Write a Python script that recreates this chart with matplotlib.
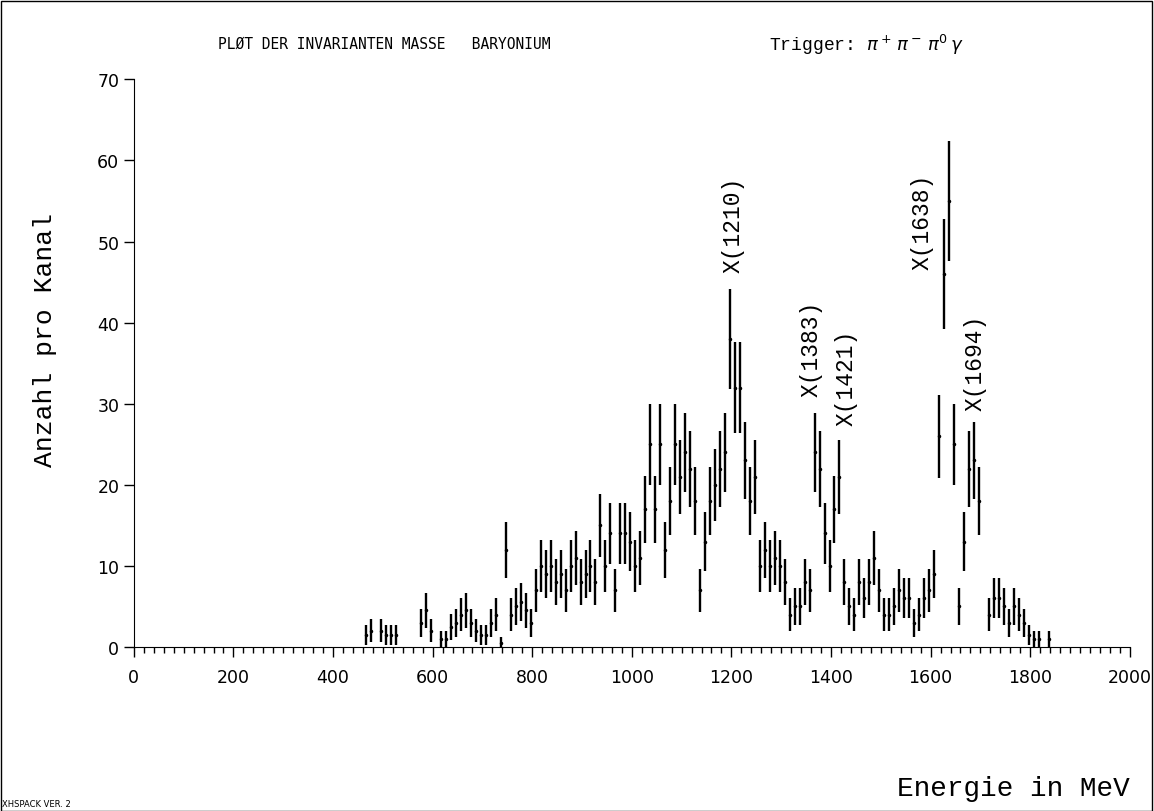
import numpy as np
import matplotlib
matplotlib.use("Agg")
import matplotlib.pyplot as plt
from matplotlib.patches import Rectangle

# channel centres (10 MeV channels) and counts per channel
energie = np.arange(467, 1847, 10)
anzahl = [
    1.5, 2, 0, 2, 1.5, 1.5, 1.5, 0, 0, 0, 0, 3, 4.5, 2, 0, 1, 1, 2.5, 3, 4,
    4.5, 3, 2, 1.5, 1.5, 3, 4, 0.5, 12, 4, 5, 5.5, 4.5, 3, 7, 10, 9, 10, 8, 9,
    7, 10, 11, 8, 9, 10, 8, 15, 10, 14, 7, 14, 14, 13, 10, 11, 17, 25, 17, 25,
    12, 18, 25, 21, 24, 22, 18, 7, 13, 18, 20, 22, 24, 38, 32, 32, 23, 18, 21, 10,
    12, 10, 11, 10, 8, 4, 5, 5, 8, 7, 24, 22, 14, 10, 17, 21, 8, 5, 4, 8,
    6, 8, 11, 7, 4, 4, 5, 7, 6, 6, 3, 4, 6, 7, 9, 26, 46, 55, 25, 5,
    13, 22, 23, 18, 0, 4, 6, 6, 5, 3, 5, 4, 3, 1.5, 1, 1, 0, 1,
]

# resonance labels: name, x position, bottom of text
peak_names = ["X(1210)", "X(1383)", "X(1421)", "X(1638)", "X(1694)"]
peak_x = [1203, 1361, 1430, 1582, 1690]
peak_y = [46.3, 31, 27.4, 46.6, 29.2]

counts = np.array(anzahl, dtype=float)
mask = counts > 0
E = energie[mask]
N = counts[mask]
err = np.sqrt(N)

mono = "Liberation Mono"

fig = plt.figure(figsize=(11.54, 8.12), dpi=100)
ax = fig.add_axes([0.116, 0.202, 0.863, 0.699])

ax.errorbar(E, N, yerr=err, fmt=".", color="black", markersize=3,
            elinewidth=1.7, capsize=0)

for name, x, y in zip(peak_names, peak_x, peak_y):
    ax.text(x, y, name, rotation=90, ha="center", va="bottom",
            fontsize=16.5, family=mono)

ax.set_xlim(0, 2000)
ax.set_ylim(0, 70)
ax.set_xticks(np.arange(0, 2001, 200))
ax.set_xticks(np.arange(0, 2001, 20), minor=True)
ax.set_yticks(np.arange(0, 71, 10))
ax.tick_params(axis="both", which="major", direction="out", length=7,
               width=1, labelsize=12.5)
ax.tick_params(axis="x", which="major", pad=8)
ax.tick_params(axis="x", which="minor", direction="out", length=4, width=1)
ax.spines["top"].set_visible(False)
ax.spines["right"].set_visible(False)

fig.text(0.039, 0.581, "Anzahl pro Kanal", rotation=90, ha="center",
         va="center", fontsize=19, family=mono)
fig.text(0.979, 0.012, "Energie in MeV", ha="right", va="bottom",
         fontsize=20, family=mono)
fig.text(0.189, 0.945, "PLØT DER INVARIANTEN MASSE   BARYONIUM",
         ha="left", va="center", fontsize=10.5, family="DejaVu Sans Mono")
fig.text(0.666, 0.945, r"Trigger: $\pi^+\,\pi^-\,\pi^0\,\gamma$",
         ha="left", va="center", fontsize=13, family=mono)
fig.text(0.002, 0.004, "XHSPACK VER. 2", ha="left", va="bottom", fontsize=6)

fig.patches.append(Rectangle((0.001, 0.0), 0.997, 0.997, transform=fig.transFigure,
                             fill=False, linewidth=1, edgecolor="black"))

fig.savefig("out.png", dpi=100)
